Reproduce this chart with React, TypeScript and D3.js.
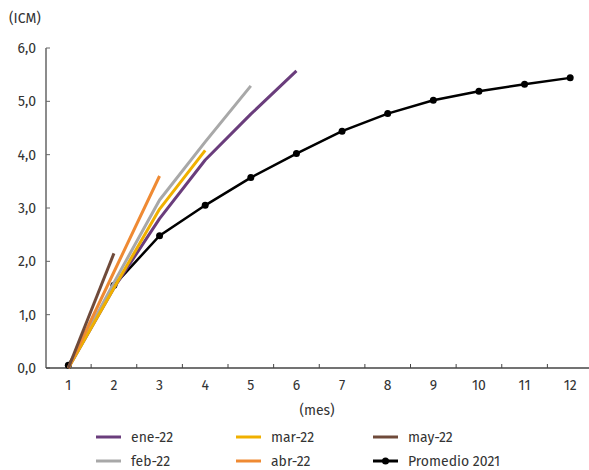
import React from "react";
import * as d3 from "d3";

const months = ["1", "2", "3", "4", "5", "6", "7", "8", "9", "10", "11", "12"];
const yTicks = [0, 1, 2, 3, 4, 5, 6];

const ene22 = [0, 1.5, 2.8, 3.9, 4.76, 5.57];
const feb22 = [0, 1.6, 3.15, 4.24, 5.29];
const mar22 = [0, 1.5, 2.98, 4.08];
const abr22 = [0, 1.8, 3.6];
const may22 = [0, 2.15];
const prom2021 = [0.05, 1.55, 2.48, 3.05, 3.57, 4.02, 4.44, 4.77, 5.02, 5.19, 5.32, 5.44];

const seriesDefs = [
  { name: "ene-22", values: ene22, color: "#6a3d7c" },
  { name: "feb-22", values: feb22, color: "#a8a8a8" },
  { name: "mar-22", values: mar22, color: "#f0b000" },
  { name: "abr-22", values: abr22, color: "#ef8a33" },
  { name: "may-22", values: may22, color: "#6f4a3a" },
];

export default function App() {
  const W = 589, H = 470;
  const x = d3.scaleBand<string>().domain(months).range([45.5, 593]);
  const y = d3.scaleLinear().domain([0, 6]).range([368, 48]);
  const cx = (i: number) => (x(months[i]) as number) + x.bandwidth() / 2;
  const line = d3.line<number>().x((_, i) => cx(i)).y((v) => y(v));
  const font = "'Fira Sans', 'Open Sans', 'Noto Sans', sans-serif";
  const textColor = "#333";
  const fs = 14;

  const legend = [
    { name: "ene-22", color: "#6a3d7c", col: 0, row: 0 },
    { name: "mar-22", color: "#f0b000", col: 1, row: 0 },
    { name: "may-22", color: "#6f4a3a", col: 2, row: 0 },
    { name: "feb-22", color: "#a8a8a8", col: 0, row: 1 },
    { name: "abr-22", color: "#ef8a33", col: 1, row: 1 },
    { name: "Promedio 2021", color: "#000", col: 2, row: 1, marker: true },
  ];
  const colX = [96, 236, 373];
  const rowY = [437, 461];

  const bandTicks = months.map((m) => x(m) as number).slice(1);

  return (
    <svg width={W} height={H} style={{ position: "absolute", left: 0, top: 0 }} fontFamily={font}>
      <rect width={W} height={H} fill="#fff" />
      <text x={9} y={23} fontSize={fs} fill={textColor}>(ICM)</text>
      {/* y axis */}
      <line x1={46} x2={46} y1={y(6)} y2={368} stroke="#666" strokeWidth={1.5} />
      {yTicks.map((t) => (
        <g key={t}>
          <line x1={46} x2={50} y1={y(t)} y2={y(t)} stroke="#666" strokeWidth={1} />
          <text x={36} y={y(t) + 5} textAnchor="end" fontSize={fs} fill={textColor}>
            {t.toFixed(1).replace(".", ",")}
          </text>
        </g>
      ))}
      {/* x axis */}
      <line x1={46} x2={589} y1={368} y2={368} stroke="#444" strokeWidth={1.5} />
      {bandTicks.map((bx, i) => (
        <line key={i} x1={bx} x2={bx} y1={368} y2={364} stroke="#444" strokeWidth={1} />
      ))}
      {months.map((m, i) => (
        <text key={m} x={cx(i)} y={390} textAnchor="middle" fontSize={fs} fill={textColor}>{m}</text>
      ))}
      <text x={317} y={415} textAnchor="middle" fontSize={fs} fill={textColor}>(mes)</text>

      {/* average line first (beneath) */}
      <path d={line(prom2021) || ""} fill="none" stroke="#000" strokeWidth={2.5} />
      {prom2021.map((v, i) => (
        <circle key={i} cx={cx(i)} cy={y(v)} r={3.5} fill="#000" />
      ))}
      {seriesDefs.map((s) => (
        <path key={s.name} d={line(s.values) || ""} fill="none" stroke={s.color} strokeWidth={3} strokeLinejoin="round" />
      ))}

      {/* legend */}
      {legend.map((l) => {
        const lx = colX[l.col];
        const ly = rowY[l.row];
        return (
          <g key={l.name}>
            <line x1={lx} x2={lx + 25} y1={ly} y2={ly} stroke={l.color} strokeWidth={3} />
            {l.marker && <circle cx={lx + 12.5} cy={ly} r={3.5} fill="#000" />}
            <text x={lx + 35} y={ly + 5} fontSize={fs} fill={textColor}>{l.name}</text>
          </g>
        );
      })}
    </svg>
  );
}
